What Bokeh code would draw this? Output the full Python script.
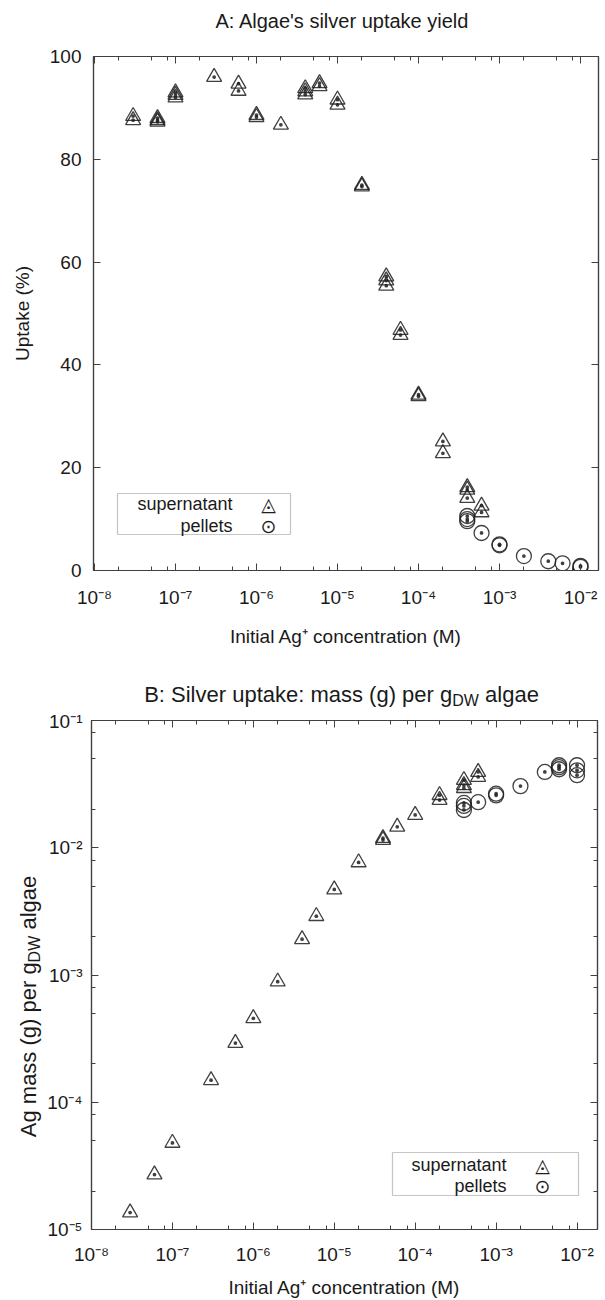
import math
from bokeh.plotting import figure
from bokeh.models import (LogAxis, LinearAxis, FixedTicker, CustomJSTickFormatter,
                          Label, BoxAnnotation, Range1d)
from bokeh.layouts import column, row
from bokeh.embed import file_html
from bokeh.resources import INLINE

# ---------------- data ----------------
# Panel A: uptake yield (%)
conc_sup_a = [3e-8, 3e-8, 6e-8, 6e-8, 6e-8, 1e-7, 1e-7, 1e-7, 3e-7, 6e-7, 6e-7,
              1e-6, 1e-6, 2e-6, 4e-6, 4e-6, 4e-6, 6e-6, 6e-6, 1e-5, 1e-5,
              2e-5, 2e-5, 4e-5, 4e-5, 4e-5, 6e-5, 6e-5, 1e-4, 1e-4,
              2e-4, 2e-4, 4e-4, 4e-4, 4e-4, 6e-4, 6e-4]
uptake_sup = [88.4, 87.6, 88.0, 87.6, 87.3, 93.0, 92.5, 92.0, 96.0, 94.7, 93.3,
              88.6, 88.2, 86.7, 93.8, 93.2, 92.6, 94.8, 94.2, 91.6, 90.6,
              75.0, 74.7, 57.2, 56.4, 55.4, 46.8, 45.8, 34.2, 33.9,
              25.1, 22.8, 16.2, 15.7, 14.1, 12.6, 11.3]
conc_pel_a = [4e-4, 4e-4, 4e-4, 6e-4, 1e-3, 1e-3, 2e-3, 4e-3, 6e-3, 1e-2, 1e-2]
uptake_pel = [10.6, 10.0, 9.6, 7.3, 5.1, 4.9, 2.8, 1.8, 1.4, 0.9, 0.7]

# Panel B: Ag mass (g) per g DW algae
conc_sup_b = [3e-8, 6e-8, 1e-7, 3e-7, 6e-7, 1e-6, 2e-6, 4e-6, 6e-6, 1e-5, 2e-5,
              4e-5, 4e-5, 6e-5, 1e-4, 2e-4, 2e-4, 4e-4, 4e-4, 4e-4, 6e-4, 6e-4]
mass_sup = [1.36e-5, 2.70e-5, 4.79e-5, 1.49e-4, 2.92e-4, 4.57e-4, 8.87e-4, 1.91e-3,
            2.90e-3, 4.70e-3, 7.67e-3, 1.19e-2, 1.15e-2, 1.46e-2, 1.81e-2,
            2.59e-2, 2.37e-2, 3.40e-2, 3.10e-2, 2.94e-2, 3.94e-2, 3.60e-2]
conc_pel_b = [4e-4, 4e-4, 4e-4, 6e-4, 1e-3, 1e-3, 2e-3, 4e-3, 6e-3, 6e-3, 6e-3,
              1e-2, 1e-2, 1e-2]
mass_pel = [2.25e-2, 2.13e-2, 1.98e-2, 2.28e-2, 2.66e-2, 2.58e-2, 3.05e-2, 3.94e-2,
            4.45e-2, 4.30e-2, 4.14e-2, 4.45e-2, 4.06e-2, 3.72e-2]

x_decades = [1e-8, 1e-7, 1e-6, 1e-5, 1e-4, 1e-3, 1e-2]
y_decades_b = [1e-5, 1e-4, 1e-3, 1e-2, 1e-1]
y_ticks_a = [0, 20, 40, 60, 80, 100]
legend_labels = ["supernatant", "pellets"]
title_a = "A: Algae's silver uptake yield"
title_b_parts = ["B: Silver uptake: mass (g) per g", "DW", "algae"]
ylabel_a = "Uptake (%)"
ylabel_b_parts = ["Ag mass (g) per g", "DW", "algae"]
xlabel = "Initial Ag\u207a concentration (M)"

# ---------------- style ----------------
FONT = "Liberation Sans"
AX = "#404040"
MK = "#1e1e1e"
TXT = "#1a1a1a"
W = 605
L1, R1 = 93, 7          # panel A frame borders (left/right)
L2, R2 = 88, 8          # panel B frame borders (left/right)


def minors(lo, hi):
    out = []
    for e in range(lo, hi):
        for k in (2, 5, 8):
            out.append(k * 10.0 ** e)
    return out


sup_fmt = CustomJSTickFormatter(code="""
const m = {'-':'\u207b','0':'\u2070','1':'\u00b9','2':'\u00b2','3':'\u00b3','4':'\u2074',
           '5':'\u2075','6':'\u2076','7':'\u2077','8':'\u2078','9':'\u2079'};
const e = Math.round(Math.log10(tick));
return '10' + String(e).split('').map(c => m[c]).join('');
""")
blank_fmt = CustomJSTickFormatter(code="return '';")


def style_axis(ax):
    ax.axis_line_color = AX
    ax.axis_line_width = 1.2
    ax.major_tick_line_color = AX
    ax.minor_tick_line_color = AX
    ax.major_tick_in = 7
    ax.major_tick_out = 0
    ax.minor_tick_in = 4
    ax.minor_tick_out = 0
    ax.major_label_text_font = FONT
    ax.major_label_text_font_size = "19px"
    ax.major_label_text_color = TXT
    ax.axis_label_text_font = FONT
    ax.axis_label_text_font_size = "19px"
    ax.axis_label_text_font_style = "normal"
    ax.axis_label_text_color = TXT


def mirror_axis(ax):
    style_axis(ax)
    ax.major_label_standoff = 0
    ax.major_label_text_font_size = "0px"


def base_fig(width, height, x_range, y_range, y_log, borders):
    p = figure(width=width, height=height, x_axis_type="log",
               y_axis_type="log" if y_log else "linear",
               x_range=x_range, y_range=y_range, output_backend="svg",
               toolbar_location=None, min_border_left=borders[0],
               min_border_right=borders[1], min_border_top=borders[2],
               min_border_bottom=borders[3])
    p.xgrid.visible = False
    p.ygrid.visible = False
    p.outline_line_color = AX
    p.outline_line_width = 1.2
    p.background_fill_color = "white"
    p.border_fill_color = "white"
    return p


def text_fig(width, height, borders):
    f = figure(width=width, height=height, x_range=Range1d(0, 1), y_range=Range1d(0, 1),
               x_axis_type=None, y_axis_type=None, toolbar_location=None,
               output_backend="svg", title=None, min_border_left=borders[0],
               min_border_right=borders[1], min_border_top=borders[2],
               min_border_bottom=borders[3])
    f.outline_line_color = None
    f.grid.visible = False
    f.background_fill_color = "white"
    f.border_fill_color = "white"
    return f


def add_label(f, x, y, txt, size, align="left", baseline="middle", angle=0.0,
              font=FONT, color=TXT):
    f.add_layout(Label(x=x, y=y, x_units="screen", y_units="screen", text=txt,
                       angle=angle, text_font=font, text_font_size=f"{size}px",
                       text_align=align, text_baseline=baseline, text_color=color))


def add_legend(p, box, text_x, ys, sym_x):
    p.add_layout(BoxAnnotation(left=box[0], right=box[1], top=box[2], bottom=box[3],
                               left_units="screen", right_units="screen",
                               top_units="screen", bottom_units="screen",
                               fill_color="white", fill_alpha=1.0,
                               line_color=AX, line_width=1.2, level="underlay"))
    for lab, y, sym in zip(legend_labels, ys, ["\u25ec", "\u2299"]):
        add_label(p, text_x, y, lab, 18, align="right")
        add_label(p, sym_x, y, sym, 19, align="center", font="DejaVu Sans", color=MK)


# ---------------- Title A ----------------
T1H = 46
t1 = text_fig(W, T1H, (L1, R1, 0, 0))
add_label(t1, 342 - L1, T1H - 20, title_a, 20, align="center")

# ---------------- Panel A ----------------
p1 = base_fig(W, 610, Range1d(10 ** -8.012, 10 ** -1.778), Range1d(0, 100), False,
              (L1, R1, 10, 86))
xt = FixedTicker(ticks=x_decades, minor_ticks=minors(-9, -1))
yt = FixedTicker(ticks=y_ticks_a, minor_ticks=[])
p1.xaxis.ticker = xt
p1.xaxis.formatter = sup_fmt
p1.yaxis.ticker = yt
p1.xaxis.axis_label = xlabel
p1.yaxis.axis_label = ylabel_a
for ax in p1.xaxis + p1.yaxis:
    style_axis(ax)
p1.xaxis.major_label_standoff = 16
p1.xaxis.axis_label_standoff = 15
p1.yaxis.major_label_standoff = 12
p1.yaxis.axis_label_standoff = 14
top1 = LogAxis(ticker=xt, formatter=blank_fmt)
right1 = LinearAxis(ticker=yt, formatter=blank_fmt)
for ax in (top1, right1):
    mirror_axis(ax)
p1.add_layout(top1, "above")
p1.add_layout(right1, "right")

p1.scatter(conc_sup_a, uptake_sup, marker="triangle_dot", size=15, fill_color=None,
           line_color=MK, line_width=1.3, line_alpha=0.85)
p1.scatter(conc_pel_a, uptake_pel, marker="circle_dot", size=15, fill_color=None,
           line_color=MK, line_width=1.3, line_alpha=0.85)
add_legend(p1, (24, 197, 77, 36), 139, (67, 45), 175)

# ---------------- Title B (with subscript) ----------------
T2H = 54
t2 = text_fig(W, T2H, (L1, R1, 0, 0))
FB, FS = 22, 16
w1 = 14.005 * FB
w2 = 1.666 * FS
wsp = 0.278 * FB
w3 = 2.446 * FB
xj = 341 - (w1 + w2 + wsp + w3) / 2 + w1 - L1    # joint between "per g" and "DW"
ym = T2H - (694 - 656)                           # middle line of the title text
add_label(t2, xj, ym, title_b_parts[0], FB, align="right")
add_label(t2, xj, ym - 6, title_b_parts[1], FS, align="left")
add_label(t2, xj + w2 + wsp, ym, title_b_parts[2], FB, align="left")

# ---------------- Panel B frame geometry ----------------
YLW, PH2 = 44, 590
TOP2, BOT2 = 10, 68

# ---------------- Y label B (rotated, with subscript) ----------------
yl2 = text_fig(YLW, PH2, (0, 0, TOP2, BOT2))
FL, FLS = 22, 16
v1 = 7.947 * FL
v2 = 1.666 * FLS
vsp = 0.278 * FL
v3 = 2.446 * FL
frame_bottom_b = 1300 - BOT2            # page y of panel B x-axis
yc = frame_bottom_b - 1009              # label centre, above frame bottom
yj = yc - (v1 + v2 + vsp + v3) / 2 + v1  # joint between "per g" and "DW"
xm = 28
ang = math.pi / 2
add_label(yl2, xm, yj, ylabel_b_parts[0], FL, align="right", angle=ang)
add_label(yl2, xm + 6, yj, ylabel_b_parts[1], FLS, align="left", angle=ang)
add_label(yl2, xm, yj + v2 + vsp, ylabel_b_parts[2], FL, align="left", angle=ang)

# ---------------- Panel B ----------------
p2 = base_fig(W - YLW, PH2, Range1d(1e-8, 10 ** -1.747), Range1d(1e-5, 1e-1), True,
              (L2 - YLW, R2, TOP2, BOT2))
xt2 = FixedTicker(ticks=x_decades, minor_ticks=minors(-9, -1))
yt2 = FixedTicker(ticks=y_decades_b, minor_ticks=minors(-6, 0))
p2.xaxis.ticker = xt2
p2.xaxis.formatter = sup_fmt
p2.yaxis.ticker = yt2
p2.yaxis.formatter = sup_fmt
p2.xaxis.axis_label = xlabel
for ax in p2.xaxis + p2.yaxis:
    style_axis(ax)
p2.xaxis.major_label_standoff = 14
p2.xaxis.axis_label_standoff = 9
p2.yaxis.major_label_standoff = 9
top2 = LogAxis(ticker=xt2, formatter=blank_fmt)
right2 = LogAxis(ticker=yt2, formatter=blank_fmt)
for ax in (top2, right2):
    mirror_axis(ax)
p2.add_layout(top2, "above")
p2.add_layout(right2, "right")

p2.scatter(conc_sup_b, mass_sup, marker="triangle_dot", size=15, fill_color=None,
           line_color=MK, line_width=1.3, line_alpha=0.85)
p2.scatter(conc_pel_b, mass_pel, marker="circle_dot", size=15, fill_color=None,
           line_color=MK, line_width=1.3, line_alpha=0.85)
add_legend(p2, (301, 487, 77, 34), 415, (65, 44), 451)

layout = column(t1, p1, t2, row(yl2, p2, spacing=0), spacing=0)
open("out.html", "w").write(file_html(layout, INLINE))
